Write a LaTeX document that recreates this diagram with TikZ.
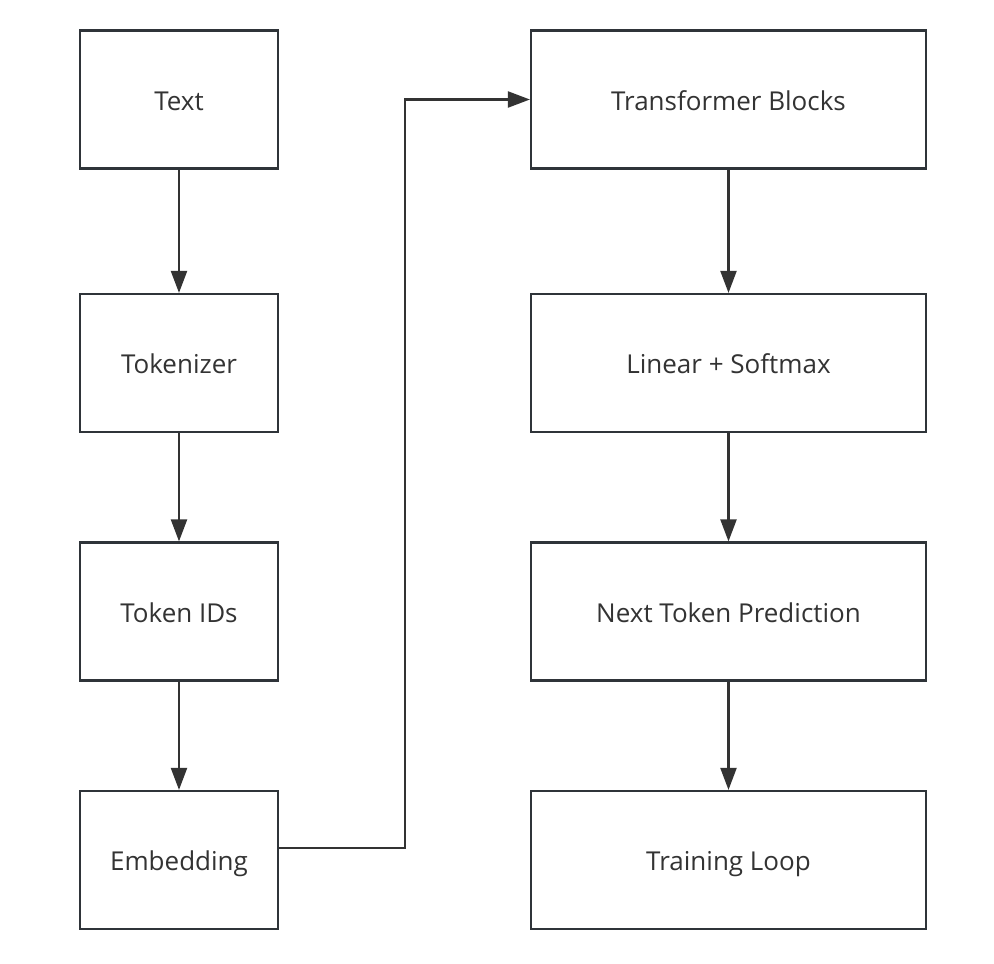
\documentclass[tikz,border=0pt]{standalone}
\usepackage{fontspec}
\setmainfont{Open Sans}
\usetikzlibrary{arrows.meta,calc}
\definecolor{edge}{HTML}{2F3439}
\definecolor{ink}{HTML}{333333}
\begin{document}
\begin{tikzpicture}[x=1pt,y=-1pt,
  box/.style={draw=edge,line width=2.2pt,fill=white,inner sep=0pt,font=\fontsize{26}{30}\selectfont,text=ink,text height=21pt,text depth=0pt},
  lbox/.style={box,minimum width=198pt,minimum height=138pt},
  rbox/.style={box,minimum width=395pt,minimum height=138pt},
  conn/.style={draw=ink,line width=2.2pt,-{Triangle[length=22pt,width=16pt]}}]
\useasboundingbox[fill=white] (0,0) rectangle (994,964);
\node[lbox] (text) at (179,99.5) {Text};
\node[lbox] (tok) at (179,363) {Tokenizer};
\node[lbox] (ids) at (179,611.5) {Token IDs};
\node[lbox] (emb) at (179,860) {Embedding};
\node[rbox] (tb) at (728.5,99.5) {Transformer Blocks};
\node[rbox] (lin) at (728.5,363) {Linear + Softmax};
\node[rbox] (ntp) at (728.5,611.5) {Next Token Prediction};
\node[rbox] (loop) at (728.5,860) {Training Loop};
\draw[conn] (text) -- (tok);
\draw[conn] (tok) -- (ids);
\draw[conn] (ids) -- (emb);
\draw[conn] (tb) -- (lin);
\draw[conn] (lin) -- (ntp);
\draw[conn] (ntp) -- (loop);
\coordinate (bend) at (405,848);
\draw[conn] ($(emb.east)+(0,-12)$) -- (bend) |- (tb.west);
\end{tikzpicture}
\end{document}
